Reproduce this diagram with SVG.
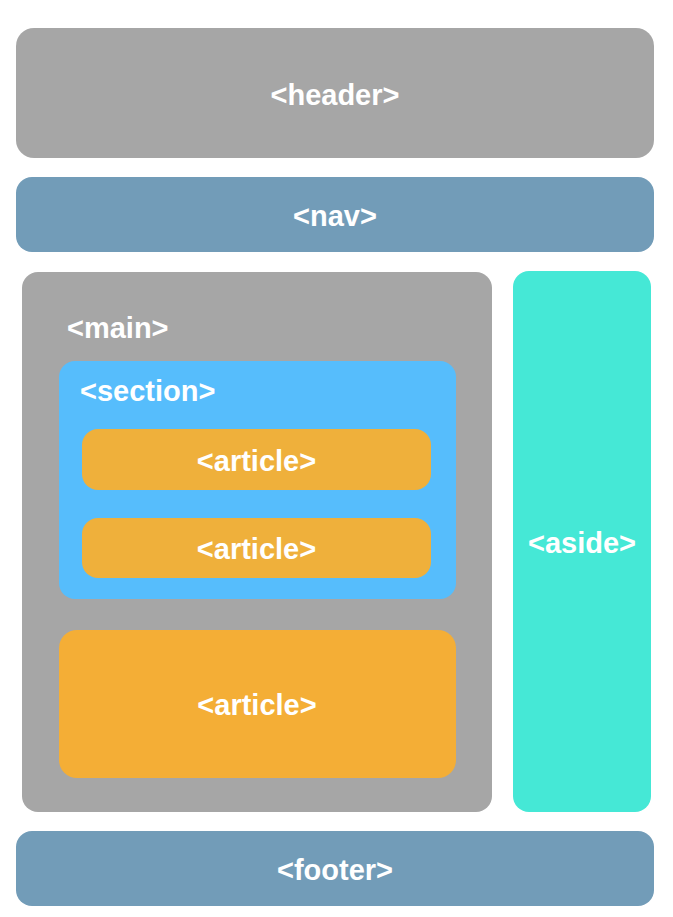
<svg xmlns="http://www.w3.org/2000/svg" width="673" height="917" viewBox="0 0 673 917">
<style>
text{font-family:"Liberation Sans",Arial,sans-serif;font-weight:bold;font-size:29px;fill:#ffffff}
.c{text-anchor:middle}
.gray{fill:#a6a6a6}
.blue{fill:#729cb8}
.sec{fill:#56bdfc}
.art{fill:#efb03b}
.art2{fill:#f4ae36}
.aside{fill:#45e8d6}
</style>
<rect width="673" height="917" fill="#ffffff"/>
<g id="header"><rect class="gray" x="16" y="28" width="638" height="130" rx="18"/><text class="c" x="335" y="105">&lt;header&gt;</text></g>
<g id="nav"><rect class="blue" x="16" y="177" width="638" height="75" rx="16"/><text class="c" x="335" y="226">&lt;nav&gt;</text></g>
<g id="main"><rect class="gray" x="22" y="272" width="470" height="540" rx="16"/><text x="67" y="338">&lt;main&gt;</text></g>
<g id="section"><rect class="sec" x="59" y="361" width="397" height="238" rx="16"/><text x="80" y="401">&lt;section&gt;</text></g>
<g id="article1"><rect class="art" x="82" y="429" width="349" height="61" rx="16"/><text class="c" x="256.5" y="471">&lt;article&gt;</text></g>
<g id="article2"><rect class="art" x="82" y="518" width="349" height="60" rx="16"/><text class="c" x="256.5" y="559">&lt;article&gt;</text></g>
<g id="article3"><rect class="art2" x="59" y="630" width="397" height="148" rx="18"/><text class="c" x="257" y="715">&lt;article&gt;</text></g>
<g id="aside"><rect class="aside" x="513" y="271" width="138" height="541" rx="16"/><text class="c" x="582" y="553">&lt;aside&gt;</text></g>
<g id="footer"><rect class="blue" x="16" y="831" width="638" height="75" rx="16"/><text class="c" x="335" y="880">&lt;footer&gt;</text></g>
<g id="connectors"/>
</svg>
